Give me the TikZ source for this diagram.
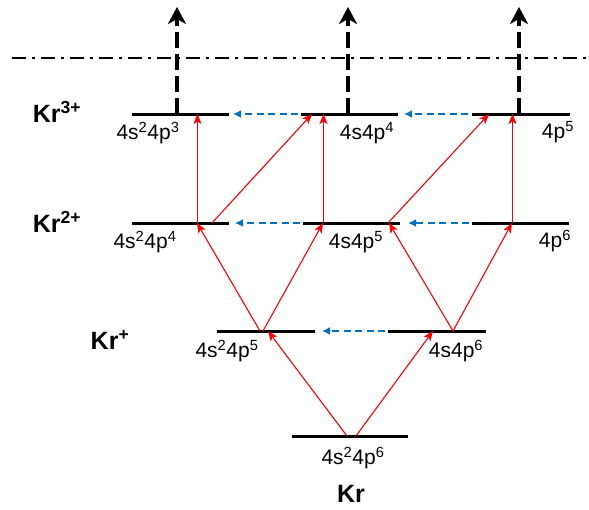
\documentclass[tikz,border=0pt]{standalone}
\usepackage{fontspec}
\setmainfont{Liberation Sans}
\usetikzlibrary{arrows.meta}
\definecolor{myblue}{HTML}{0070C0}
\begin{document}
\begin{tikzpicture}[x=1pt,y=-1pt,
  level/.style={line width=3pt},
  exc/.style={red, line width=1.1pt, -{Stealth[length=10pt,width=8pt,inset=2.5pt]}},
  relax/.style={myblue, line width=1.8pt, dash pattern=on 7pt off 4.5pt, -{Latex[length=8pt,width=8pt]}},
  ion/.style={black, line width=3.5pt, dash pattern=on 16pt off 6pt, -{Stealth[length=17pt,width=18pt,inset=5pt]}},
  cfg/.style={font=\fontsize{21}{24}\selectfont, inner sep=0pt},
  ionlab/.style={font=\fontsize{25}{29}\selectfont\bfseries, inner sep=0pt}]
\useasboundingbox (0,0) rectangle (589,509);
% levels
\coordinate (k0a) at (292,436); \coordinate (k0b) at (408,436);
\coordinate (k1La) at (217,331); \coordinate (k1Lb) at (315,331);
\coordinate (k1Ra) at (388,331); \coordinate (k1Rb) at (486,331);
\coordinate (k2La) at (132,223); \coordinate (k2Lb) at (229,223);
\coordinate (k2Ma) at (303,223); \coordinate (k2Mb) at (400,223);
\coordinate (k2Ra) at (472,223); \coordinate (k2Rb) at (569,223);
\coordinate (k3La) at (132,114); \coordinate (k3Lb) at (229,114);
\coordinate (k3Ma) at (301,114); \coordinate (k3Mb) at (398,114);
\coordinate (k3Ra) at (472,114); \coordinate (k3Rb) at (570,114);
\foreach \a/\b in {k0a/k0b,k1La/k1Lb,k1Ra/k1Rb,k2La/k2Lb,k2Ma/k2Mb,k2Ra/k2Rb,k3La/k3Lb,k3Ma/k3Mb,k3Ra/k3Rb}
  \draw[level] (\a) -- (\b);
% ionisation threshold
\coordinate (thA) at (12,58); \coordinate (thB) at (589,58);
\draw[line width=2pt, dash pattern=on 14pt off 6pt on 3pt off 6pt] (thA) -- (thB);
% ionisation arrows
\coordinate (i1a) at (177,114); \coordinate (i1b) at (177,7);
\coordinate (i2a) at (348,114); \coordinate (i2b) at (348,7);
\coordinate (i3a) at (519,114); \coordinate (i3b) at (519,7);
\draw[ion] (i1a) -- (i1b);
\draw[ion] (i2a) -- (i2b);
\draw[ion] (i3a) -- (i3b);
% excitation arrows
\coordinate (e1a) at (347,436); \coordinate (e1b) at (268,331);
\coordinate (e2a) at (356,436); \coordinate (e2b) at (433,331);
\coordinate (e3a) at (260,331); \coordinate (e3b) at (197,223);
\coordinate (e4a) at (263,331); \coordinate (e4b) at (323,223);
\coordinate (e5a) at (453,331); \coordinate (e5b) at (389,223);
\coordinate (e6a) at (453,331); \coordinate (e6b) at (512,223);
\coordinate (e7a) at (197.5,223); \coordinate (e7b) at (197.5,114);
\coordinate (e8a) at (212,223); \coordinate (e8b) at (312,114);
\coordinate (e9a) at (323.5,223); \coordinate (e9b) at (323.5,114);
\coordinate (e10a) at (388,223); \coordinate (e10b) at (489,114);
\coordinate (e11a) at (512.5,223); \coordinate (e11b) at (512.5,114);
\foreach \i in {1,...,11} \draw[exc] (e\i a) -- (e\i b);
% relaxation arrows
\coordinate (r1a) at (298,114); \coordinate (r1b) at (233,114);
\coordinate (r2a) at (468,114); \coordinate (r2b) at (404,114);
\coordinate (r3a) at (300,223); \coordinate (r3b) at (235,223);
\coordinate (r4a) at (469,223); \coordinate (r4b) at (408,223);
\coordinate (r5a) at (385,331); \coordinate (r5b) at (322,331);
\foreach \i in {1,...,5} \draw[relax] (r\i a) -- (r\i b);
% configuration labels
\node[cfg] (c3L) at (148,133) {4s\textsuperscript{2}4p\textsuperscript{3}};
\node[cfg] (c3M) at (367,133) {4s4p\textsuperscript{4}};
\node[cfg] (c3R) at (558,132) {4p\textsuperscript{5}};
\node[cfg] (c2L) at (145,242) {4s\textsuperscript{2}4p\textsuperscript{4}};
\node[cfg] (c2M) at (356,242) {4s4p\textsuperscript{5}};
\node[cfg] (c2R) at (555,241) {4p\textsuperscript{6}};
\node[cfg] (c1L) at (227,351) {4s\textsuperscript{2}4p\textsuperscript{5}};
\node[cfg] (c1R) at (456,351) {4s4p\textsuperscript{6}};
\node[cfg] (c0) at (353,458) {4s\textsuperscript{2}4p\textsuperscript{6}};
% ion labels
\node[ionlab] (l3) at (57,112) {Kr\textsuperscript{3+}};
\node[ionlab] (l2) at (57,222) {Kr\textsuperscript{2+}};
\node[ionlab] (l1) at (110,340) {Kr\textsuperscript{+}};
\node[ionlab] (l0) at (351,494) {Kr};
\end{tikzpicture}
\end{document}
